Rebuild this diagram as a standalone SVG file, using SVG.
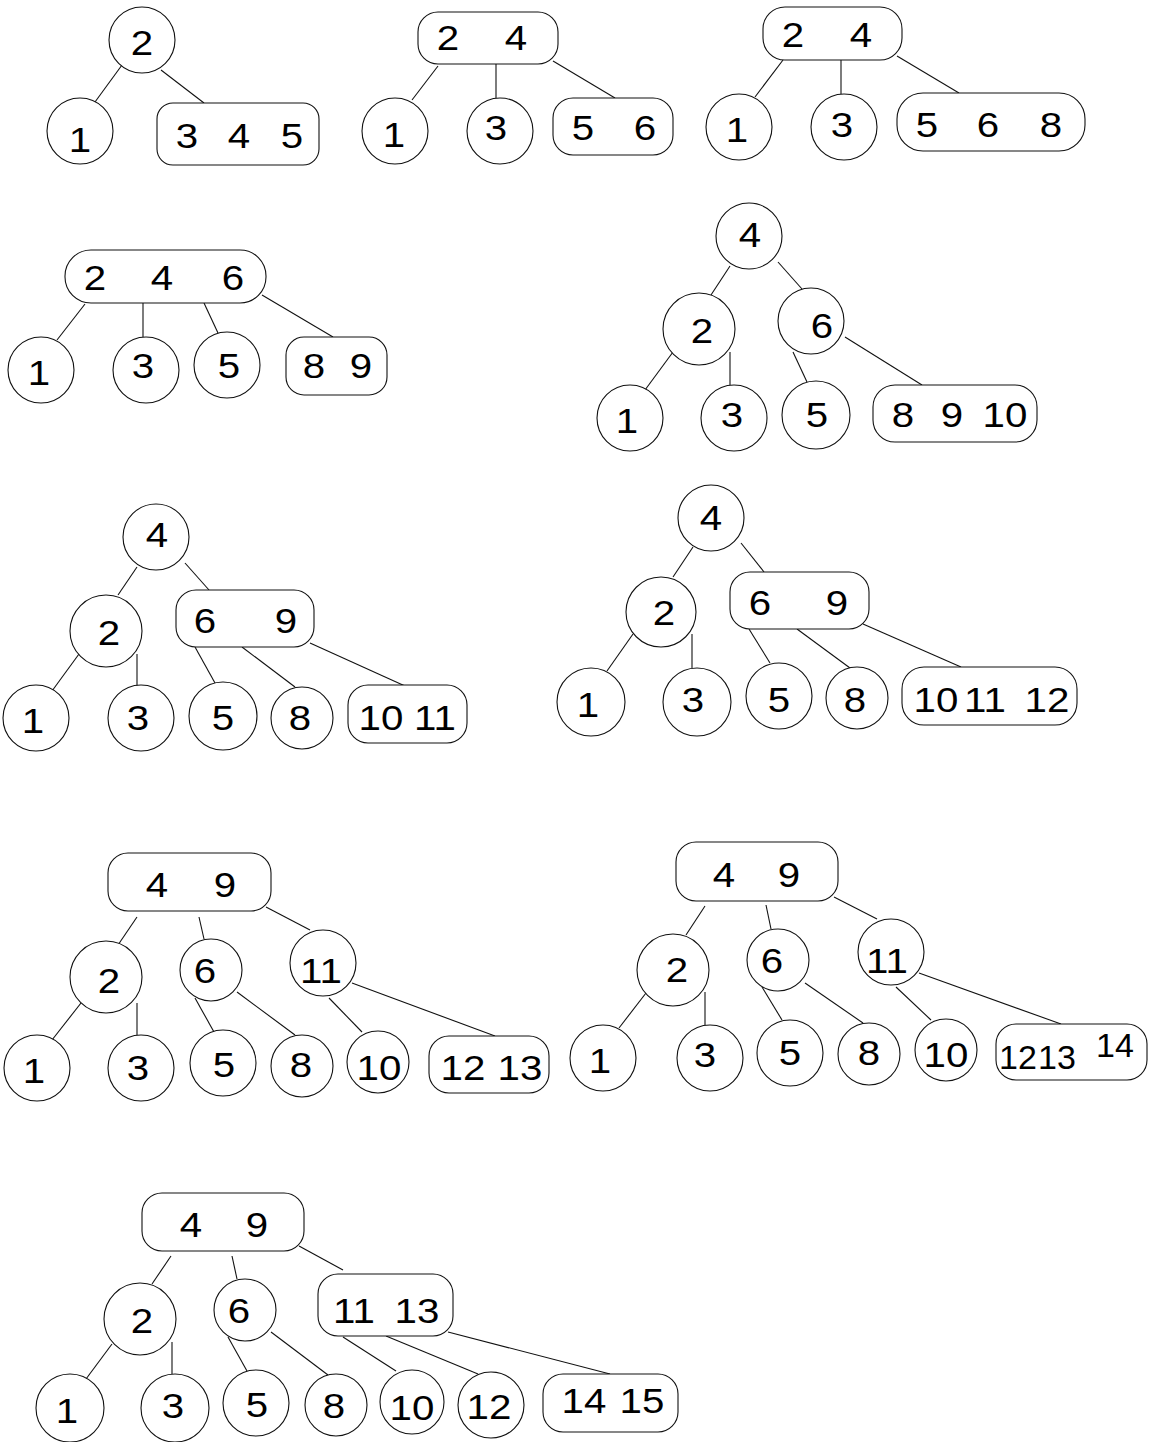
<svg xmlns="http://www.w3.org/2000/svg" width="1152" height="1442" viewBox="0 0 1152 1442">
<style>
.n{fill:#fff;stroke:#111;stroke-width:1.1}
.e{stroke:#111;stroke-width:1.1;fill:none}
.v{font-family:"Liberation Sans",Arial,sans-serif;font-size:34px;text-anchor:middle;fill:#000}
.t{font-family:"Liberation Sans",Arial,sans-serif;font-size:35px;text-anchor:middle;fill:#000;transform-box:fill-box;transform-origin:center;transform:scaleX(1.15)}
</style>
<rect width="1152" height="1442" fill="#fff"/>
<g id="connectors">
<line class="e" x1="122" y1="65" x2="95" y2="102"/>
<line class="e" x1="161" y1="70" x2="204" y2="103"/>
<line class="e" x1="438" y1="66" x2="412" y2="100"/>
<line class="e" x1="496" y1="64" x2="496" y2="98"/>
<line class="e" x1="553" y1="61" x2="615" y2="98"/>
<line class="e" x1="783" y1="60" x2="755" y2="97"/>
<line class="e" x1="841" y1="60" x2="841" y2="94"/>
<line class="e" x1="897" y1="56" x2="959" y2="93"/>
<line class="e" x1="85" y1="304" x2="57" y2="340"/>
<line class="e" x1="143" y1="303" x2="143" y2="337"/>
<line class="e" x1="204" y1="303" x2="218" y2="333"/>
<line class="e" x1="262" y1="295" x2="333" y2="337"/>
<line class="e" x1="730" y1="266" x2="711" y2="295"/>
<line class="e" x1="778" y1="262" x2="802" y2="289"/>
<line class="e" x1="673" y1="352" x2="645" y2="390"/>
<line class="e" x1="730" y1="352" x2="730" y2="385"/>
<line class="e" x1="793" y1="352" x2="807" y2="382"/>
<line class="e" x1="845" y1="337" x2="922" y2="385"/>
<line class="e" x1="137" y1="567" x2="118" y2="595"/>
<line class="e" x1="185" y1="563" x2="209" y2="590"/>
<line class="e" x1="79" y1="654" x2="52" y2="691"/>
<line class="e" x1="137" y1="654" x2="137" y2="687"/>
<line class="e" x1="195" y1="647" x2="215" y2="683"/>
<line class="e" x1="242" y1="647" x2="295" y2="687"/>
<line class="e" x1="310" y1="643" x2="405" y2="686"/>
<line class="e" x1="693" y1="547" x2="673" y2="577"/>
<line class="e" x1="741" y1="543" x2="764" y2="572"/>
<line class="e" x1="633" y1="634" x2="607" y2="671"/>
<line class="e" x1="692" y1="634" x2="692" y2="668"/>
<line class="e" x1="749" y1="629" x2="770" y2="663"/>
<line class="e" x1="797" y1="629" x2="850" y2="668"/>
<line class="e" x1="863" y1="624" x2="961" y2="667"/>
<line class="e" x1="137" y1="917" x2="118" y2="945"/>
<line class="e" x1="199" y1="917" x2="204" y2="939"/>
<line class="e" x1="266" y1="907" x2="310" y2="930"/>
<line class="e" x1="81" y1="1003" x2="52" y2="1040"/>
<line class="e" x1="137" y1="1003" x2="137" y2="1035"/>
<line class="e" x1="195" y1="998" x2="214" y2="1032"/>
<line class="e" x1="237" y1="992" x2="295" y2="1035"/>
<line class="e" x1="329" y1="998" x2="362" y2="1032"/>
<line class="e" x1="352" y1="983" x2="495" y2="1036"/>
<line class="e" x1="705" y1="906" x2="686" y2="935"/>
<line class="e" x1="766" y1="905" x2="771" y2="929"/>
<line class="e" x1="834" y1="897" x2="877" y2="919"/>
<line class="e" x1="646" y1="993" x2="619" y2="1028"/>
<line class="e" x1="705" y1="992" x2="705" y2="1025"/>
<line class="e" x1="762" y1="987" x2="782" y2="1020"/>
<line class="e" x1="805" y1="983" x2="863" y2="1023"/>
<line class="e" x1="896" y1="987" x2="931" y2="1020"/>
<line class="e" x1="919" y1="973" x2="1061" y2="1024"/>
<line class="e" x1="171" y1="1256" x2="152" y2="1284"/>
<line class="e" x1="232" y1="1256" x2="237" y2="1279"/>
<line class="e" x1="299" y1="1246" x2="343" y2="1270"/>
<line class="e" x1="112" y1="1344" x2="86" y2="1379"/>
<line class="e" x1="172" y1="1342" x2="172" y2="1374"/>
<line class="e" x1="228" y1="1337" x2="247" y2="1371"/>
<line class="e" x1="271" y1="1332" x2="328" y2="1375"/>
<line class="e" x1="343" y1="1337" x2="396" y2="1371"/>
<line class="e" x1="386" y1="1336" x2="478" y2="1374"/>
<line class="e" x1="448" y1="1332" x2="610" y2="1374"/>
</g>

<g id="t1-n2"><circle class="n" cx="142" cy="40" r="33"/><text class="t" x="142" y="55">2</text></g>
<g id="t1-n1"><circle class="n" cx="80" cy="131" r="33"/><text class="t" x="80" y="152">1</text></g>
<g id="t1-n345"><rect class="n" x="157" y="103" width="162" height="62" rx="16"/><text class="t" x="187" y="148">3</text><text class="t" x="239" y="148">4</text><text class="t" x="292" y="148">5</text></g>

<g id="t2-n24"><rect class="n" x="418" y="12" width="140" height="52" rx="20"/><text class="t" x="448" y="50">2</text><text class="t" x="516" y="50">4</text></g>
<g id="t2-n1"><circle class="n" cx="395" cy="131" r="33"/><text class="t" x="394" y="147">1</text></g>
<g id="t2-n3"><circle class="n" cx="500" cy="131" r="33"/><text class="t" x="496" y="140">3</text></g>
<g id="t2-n56"><rect class="n" x="553" y="98" width="120" height="57" rx="20"/><text class="t" x="583" y="140">5</text><text class="t" x="645" y="140">6</text></g>

<g id="t3-n24"><rect class="n" x="763" y="7" width="139" height="53" rx="22"/><text class="t" x="793" y="47">2</text><text class="t" x="861" y="47">4</text></g>
<g id="t3-n1"><circle class="n" cx="739" cy="127" r="33"/><text class="t" x="737" y="142">1</text></g>
<g id="t3-n3"><circle class="n" cx="844" cy="127" r="33"/><text class="t" x="842" y="137">3</text></g>
<g id="t3-n568"><rect class="n" x="897" y="93" width="188" height="58" rx="26"/><text class="t" x="927" y="137">5</text><text class="t" x="988" y="137">6</text><text class="t" x="1051" y="137">8</text></g>

<g id="t4-n246"><rect class="n" x="65" y="250" width="201" height="53" rx="26"/><text class="t" x="95" y="290">2</text><text class="t" x="162" y="290">4</text><text class="t" x="233" y="290">6</text></g>
<g id="t4-n1"><circle class="n" cx="41" cy="370" r="33"/><text class="t" x="39" y="385">1</text></g>
<g id="t4-n3"><circle class="n" cx="146" cy="370" r="33"/><text class="t" x="143" y="378">3</text></g>
<g id="t4-n5"><circle class="n" cx="227" cy="365" r="33"/><text class="t" x="229" y="378">5</text></g>
<g id="t4-n89"><rect class="n" x="286" y="337" width="101" height="58" rx="18"/><text class="t" x="314" y="378">8</text><text class="t" x="361" y="378">9</text></g>

<g id="t5-n4"><circle class="n" cx="749" cy="236" r="33"/><text class="t" x="750" y="247">4</text></g>
<g id="t5-n2"><circle class="n" cx="699" cy="329" r="36"/><text class="t" x="702" y="343">2</text></g>
<g id="t5-n6"><circle class="n" cx="811" cy="321" r="33"/><text class="t" x="822" y="338">6</text></g>
<g id="t5-n1"><circle class="n" cx="630" cy="418" r="33"/><text class="t" x="627" y="433">1</text></g>
<g id="t5-n3"><circle class="n" cx="734" cy="418" r="33"/><text class="t" x="732" y="427">3</text></g>
<g id="t5-n5"><circle class="n" cx="816" cy="415" r="34"/><text class="t" x="817" y="427">5</text></g>
<g id="t5-n8910"><rect class="n" x="873" y="385" width="164" height="57" rx="22"/><text class="t" x="903" y="427">8</text><text class="t" x="952" y="427">9</text><text class="t" x="1005" y="427">10</text></g>

<g id="t6-n4"><circle class="n" cx="156" cy="537" r="33"/><text class="t" x="157" y="547">4</text></g>
<g id="t6-n2"><circle class="n" cx="106" cy="631" r="36"/><text class="t" x="109" y="645">2</text></g>
<g id="t6-n69"><rect class="n" x="176" y="590" width="138" height="57" rx="20"/><text class="t" x="205" y="633">6</text><text class="t" x="286" y="633">9</text></g>
<g id="t6-n1"><circle class="n" cx="36" cy="718" r="33"/><text class="t" x="33" y="733">1</text></g>
<g id="t6-n3"><circle class="n" cx="141" cy="718" r="33"/><text class="t" x="138" y="730">3</text></g>
<g id="t6-n5"><circle class="n" cx="223" cy="716" r="34"/><text class="t" x="223" y="730">5</text></g>
<g id="t6-n8"><circle class="n" cx="302" cy="718" r="31"/><text class="t" x="300" y="730">8</text></g>
<g id="t6-n1011"><rect class="n" x="348" y="685" width="119" height="58" rx="20"/><text class="t" x="381" y="730">10</text><text class="t" x="435" y="730">11</text></g>

<g id="t7-n4"><circle class="n" cx="711" cy="518" r="33"/><text class="t" x="711" y="530">4</text></g>
<g id="t7-n2"><circle class="n" cx="661" cy="612" r="35"/><text class="t" x="664" y="625">2</text></g>
<g id="t7-n69"><rect class="n" x="730" y="572" width="139" height="57" rx="20"/><text class="t" x="760" y="615">6</text><text class="t" x="837" y="615">9</text></g>
<g id="t7-n1"><circle class="n" cx="591" cy="702" r="34"/><text class="t" x="588" y="717">1</text></g>
<g id="t7-n3"><circle class="n" cx="697" cy="702" r="34"/><text class="t" x="693" y="712">3</text></g>
<g id="t7-n5"><circle class="n" cx="779" cy="696" r="33"/><text class="t" x="779" y="712">5</text></g>
<g id="t7-n8"><circle class="n" cx="857" cy="698" r="31"/><text class="t" x="855" y="712">8</text></g>
<g id="t7-n101112"><rect class="n" x="902" y="667" width="175" height="58" rx="22"/><text class="t" x="936" y="712">10</text><text class="t" x="985" y="712">11</text><text class="t" x="1047" y="712">12</text></g>

<g id="t8-n49"><rect class="n" x="108" y="853" width="163" height="58" rx="20"/><text class="t" x="157" y="897">4</text><text class="t" x="225" y="897">9</text></g>
<g id="t8-n2"><circle class="n" cx="106" cy="977" r="36"/><text class="t" x="109" y="993">2</text></g>
<g id="t8-n6"><circle class="n" cx="211" cy="970" r="31"/><text class="t" x="205" y="983">6</text></g>
<g id="t8-n11"><circle class="n" cx="323" cy="963" r="33"/><text class="t" x="321" y="983">11</text></g>
<g id="t8-n1"><circle class="n" cx="37" cy="1068" r="33"/><text class="t" x="34" y="1083">1</text></g>
<g id="t8-n3"><circle class="n" cx="141" cy="1068" r="33"/><text class="t" x="138" y="1080">3</text></g>
<g id="t8-n5"><circle class="n" cx="223" cy="1063" r="33"/><text class="t" x="224" y="1077">5</text></g>
<g id="t8-n8"><circle class="n" cx="302" cy="1066" r="31"/><text class="t" x="301" y="1077">8</text></g>
<g id="t8-n10"><circle class="n" cx="378" cy="1062" r="31"/><text class="t" x="379" y="1080">10</text></g>
<g id="t8-n1213"><rect class="n" x="429" y="1036" width="120" height="57" rx="20"/><text class="t" x="463" y="1080">12</text><text class="t" x="520" y="1080">13</text></g>

<g id="t9-n49"><rect class="n" x="676" y="842" width="162" height="59" rx="20"/><text class="t" x="724" y="887">4</text><text class="t" x="789" y="887">9</text></g>
<g id="t9-n2"><circle class="n" cx="673" cy="970" r="36"/><text class="t" x="677" y="982">2</text></g>
<g id="t9-n6"><circle class="n" cx="778" cy="960" r="31"/><text class="t" x="772" y="973">6</text></g>
<g id="t9-n11"><circle class="n" cx="891" cy="952" r="33"/><text class="t" x="887" y="973">11</text></g>
<g id="t9-n1"><circle class="n" cx="603" cy="1058" r="33"/><text class="t" x="600" y="1073">1</text></g>
<g id="t9-n3"><circle class="n" cx="710" cy="1058" r="33"/><text class="t" x="705" y="1067">3</text></g>
<g id="t9-n5"><circle class="n" cx="790" cy="1053" r="33"/><text class="t" x="790" y="1065">5</text></g>
<g id="t9-n8"><circle class="n" cx="869" cy="1054" r="31"/><text class="t" x="869" y="1065">8</text></g>
<g id="t9-n10"><circle class="n" cx="946" cy="1050" r="31"/><text class="t" x="946" y="1067">10</text></g>
<g id="t9-n121314"><rect class="n" x="996" y="1024" width="151" height="56" rx="20"/><text class="v" x="1018" y="1069">12</text><text class="v" x="1057" y="1069">13</text><text class="v" x="1115" y="1057">14</text></g>

<g id="t10-n49"><rect class="n" x="142" y="1193" width="162" height="58" rx="20"/><text class="t" x="191" y="1237">4</text><text class="t" x="257" y="1237">9</text></g>
<g id="t10-n2"><circle class="n" cx="140" cy="1319" r="36"/><text class="t" x="142" y="1333">2</text></g>
<g id="t10-n6"><circle class="n" cx="245" cy="1310" r="31"/><text class="t" x="239" y="1323">6</text></g>
<g id="t10-n1113"><rect class="n" x="318" y="1274" width="135" height="62" rx="20"/><text class="t" x="354" y="1323">11</text><text class="t" x="417" y="1323">13</text></g>
<g id="t10-n1"><circle class="n" cx="70" cy="1408" r="34"/><text class="t" x="67" y="1423">1</text></g>
<g id="t10-n3"><circle class="n" cx="175" cy="1408" r="34"/><text class="t" x="173" y="1418">3</text></g>
<g id="t10-n5"><circle class="n" cx="256" cy="1403" r="33"/><text class="t" x="257" y="1417">5</text></g>
<g id="t10-n8"><circle class="n" cx="336" cy="1405" r="31"/><text class="t" x="334" y="1418">8</text></g>
<g id="t10-n10"><circle class="n" cx="412" cy="1402" r="32"/><text class="t" x="412" y="1420">10</text></g>
<g id="t10-n12"><circle class="n" cx="491" cy="1405" r="33"/><text class="t" x="489" y="1419">12</text></g>
<g id="t10-n1415"><rect class="n" x="543" y="1374" width="135" height="58" rx="20"/><text class="t" x="584" y="1413">14</text><text class="t" x="642" y="1413">15</text></g>
</svg>
